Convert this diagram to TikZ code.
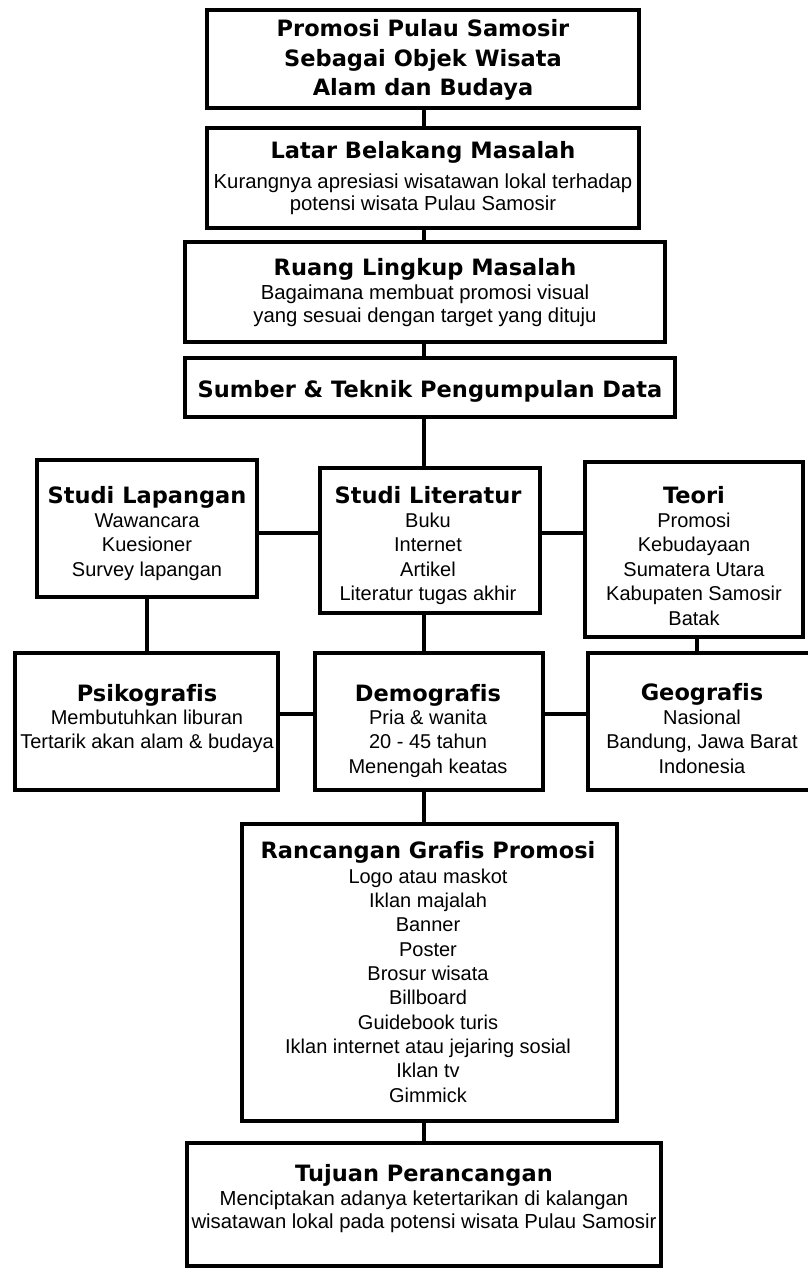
\documentclass[tikz,border=0pt]{standalone}
\usepackage{fontspec}
\setmainfont{Liberation Sans}[Ligatures=NoCommon]
\newfontfamily\headfont{DejaVu Sans}[Ligatures=NoCommon]
\tikzset{
  box/.style={draw=black, line width=4.6pt, fill=white, rectangle, inner sep=0pt, outer sep=0pt},
  conn/.style={draw=black, line width=4.6pt},
  head/.style={font=\headfont\bfseries\fontsize{22.5}{29.5}\selectfont, anchor=base, inner sep=0pt, align=center},
  bodytext/.style={font=\fontsize{20}{24.5}\selectfont, anchor=base, inner sep=0pt, align=center},
  bodytwo/.style={font=\fontsize{20.3}{22.8}\selectfont, anchor=base, inner sep=0pt, align=center},
  bodylong/.style={font=\fontsize{20}{24.3}\selectfont, anchor=base, inner sep=0pt, align=center},
}
\newcommand{\boxnode}[5]{%
  \node[box, minimum width={#4-#2}, minimum height={#5-#3}] (#1) at ({(#2+#4)/2},{(#3+#5)/2}) {};}
\begin{document}
\begin{tikzpicture}[x=1pt,y=-1pt]
\useasboundingbox[fill=white] (0,0) rectangle (807,1268);
% boxes
\boxnode{b1}{207}{10}{639}{108}
\boxnode{b2}{207}{128}{639}{228}
\boxnode{b3}{185}{242}{665}{342}
\boxnode{b4}{185}{358}{675}{417}
\boxnode{lap}{37}{460}{257}{597}
\boxnode{lit}{320}{468}{540}{613}
\boxnode{teo}{585}{462}{803}{637}
\boxnode{psi}{15}{653}{278}{790}
\boxnode{dem}{315}{653}{543}{790}
\boxnode{geo}{588}{653}{816}{790}
\boxnode{ran}{242}{824}{617}{1121}
\boxnode{tuj}{187}{1143}{661}{1266}
% helper coordinates
\coordinate (spine) at (424,0);
\coordinate (teox) at (697,0);
\coordinate (row2) at (0,533);
\coordinate (row3) at (0,714);
% connectors
\draw[conn] (b1.south -| spine) -- (b2.north -| spine);
\draw[conn] (b2.south -| spine) -- (b3.north -| spine);
\draw[conn] (b3.south -| spine) -- (b4.north -| spine);
\draw[conn] (b4.south -| spine) -- (lit.north -| spine);
\draw[conn] (lit.south -| spine) -- (dem.north -| spine);
\draw[conn] (dem.south -| spine) -- (ran.north -| spine);
\draw[conn] (ran.south -| spine) -- (tuj.north -| spine);
\draw[conn] (lap.south) -- (lap.south |- psi.north);
\draw[conn] (teo.south -| teox) -- (geo.north -| teox);
\draw[conn] (lap.east |- row2) -- (lit.west |- row2);
\draw[conn] (lit.east |- row2) -- (teo.west |- row2);
\draw[conn] (psi.east |- row3) -- (dem.west |- row3);
\draw[conn] (dem.east |- row3) -- (geo.west |- row3);
% texts (anchor base = baseline of the last line)
\node[head] (t1) at (423,96) {Promosi Pulau Samosir\\Sebagai Objek Wisata\\Alam dan Budaya};
\node[head] (t2h) at (423,159) {Latar Belakang Masalah};
\node[bodytwo] (t2b) at (423,211) {Kurangnya apresiasi wisatawan lokal terhadap\\potensi wisata Pulau Samosir};
\node[head] (t3h) at (425,275) {Ruang Lingkup Masalah};
\node[bodytwo] (t3b) at (425,322) {Bagaimana membuat promosi visual\\yang sesuai dengan target yang dituju};
\node[head] (t4h) at (430,397) {Sumber \& Teknik Pengumpulan Data};
\node[head] (laph) at (147,503) {Studi Lapangan};
\node[bodytext] (lapb) at (147,576) {Wawancara\\Kuesioner\\Survey lapangan};
\node[head] (lith) at (428,503) {Studi Literatur};
\node[bodytext] (litb) at (428,600.5) {Buku\\Internet\\Artikel\\Literatur tugas akhir};
\node[head] (teoh) at (694,503) {Teori};
\node[bodytext] (teob) at (694,625) {Promosi\\Kebudayaan\\Sumatera Utara\\Kabupaten Samosir\\Batak};
\node[head] (psih) at (147,701) {Psikografis};
\node[bodytext] (psib) at (147,748.5) {Membutuhkan liburan\\Tertarik akan alam \& budaya};
\node[head] (demh) at (428,701) {Demografis};
\node[bodytext] (demb) at (428,773) {Pria \& wanita\\20 - 45 tahun\\Menengah keatas};
\node[head] (geoh) at (702,700) {Geografis};
\node[bodytext] (geob) at (702,773) {Nasional\\Bandung, Jawa Barat\\Indonesia};
\node[head] (ranh) at (428,858) {Rancangan Grafis Promosi};
\node[bodylong] (ranb) at (428,1102) {Logo atau maskot\\Iklan majalah\\Banner\\Poster\\Brosur wisata\\Billboard\\Guidebook turis\\Iklan internet atau jejaring sosial\\Iklan tv\\Gimmick};
\node[head] (tujh) at (424,1181) {Tujuan Perancangan};
\node[bodytwo] (tujb) at (424,1228) {Menciptakan adanya ketertarikan di kalangan\\wisatawan lokal pada potensi wisata Pulau Samosir};
\end{tikzpicture}
\end{document}
